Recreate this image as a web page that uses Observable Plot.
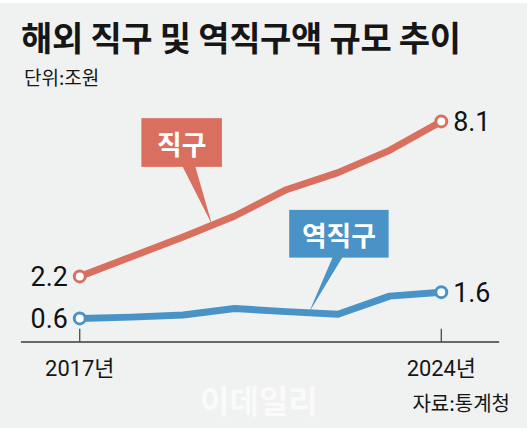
<!DOCTYPE html>
<html>
<head>
<meta charset="utf-8">
<script src="https://cdn.jsdelivr.net/npm/d3@7"></script>
<script src="https://cdn.jsdelivr.net/npm/@observablehq/plot@0.6"></script>
<style>
  html, body { margin: 0; padding: 0; background: #ffffff; }
  #card {
    position: absolute; left: 0; top: 3px; width: 527px; height: 425px;
    background: #f0f1f1; overflow: hidden;
    font-family: "Noto Sans CJK KR", "Noto Sans", sans-serif; color: #161616;
  }
  #title { position: absolute; left: 21px; top: 17px; font-size: 34px; line-height: 34px; font-weight: 700; letter-spacing: -0.3px; white-space: nowrap; }
  #subtitle { position: absolute; left: 24px; top: 64px; font-size: 19px; line-height: 19px; white-space: nowrap; }
  #chart { position: absolute; left: 0; top: 92px; }
  #caption { position: absolute; right: 17px; top: 390px; font-size: 20px; line-height: 20px; white-space: nowrap; }
  #watermark { position: absolute; left: 200px; top: 380px; font-size: 32px; line-height: 32px; font-weight: 700; color: #ffffff; opacity: 0.7; white-space: nowrap; }
</style>
</head>
<body>
<div id="card">
  <div id="title">해외 직구 및 역직구액 규모 추이</div>
  <div id="subtitle">단위:조원</div>
  <div id="chart"></div>
  <div id="watermark">이데일리</div>
  <div id="caption">자료:통계청</div>
</div>
<script>
// ---- data ----
const years = [2017, 2018, 2019, 2020, 2021, 2022, 2023, 2024];
const jikgu = [2.2, 2.95, 3.7, 4.5, 5.5, 6.15, 7.0, 8.1];       // 직구 (조원)
const yeokjikgu = [0.6, 0.65, 0.73, 0.98, 0.86, 0.76, 1.45, 1.6]; // 역직구 (조원)
const seriesNames = ["직구", "역직구"];
const tickYears = [2017, 2024];
const tickLabels = ["2017년", "2024년"];
const labelAt = [2019.57, 2021.45]; // where each callout points on its line (year)

// ---- styles / layout ----
const colors = ["#d9705f", "#4993c6"];
const callout = {
  "직구":   {left: -71, top: -107, w: 81, h: 49, b1: -30, b2: -17},
  "역직구": {left: -20, top: -103, w: 100, h: 48, b1: 24, b2: 34}
};

const seriesValues = [jikgu, yeokjikgu];
const table = seriesNames.flatMap((s, i) => years.map((yr, j) => ({series: s, year: yr, value: seriesValues[i][j]})));
const ends = table.filter(d => d.year === years[0] || d.year === years[years.length - 1]);
const yMin = -0.3, yMax = 8.33, pad = 1.13;

function interp(vals, x) {
  const i = Math.min(years.length - 2, Math.max(0, Math.floor(x - years[0])));
  const t = (x - years[i]) / (years[i + 1] - years[i]);
  return vals[i] + t * (vals[i + 1] - vals[i]);
}

function callouts(index, scales) {
  const g = d3.create("svg:g");
  seriesNames.forEach((s, i) => {
    const L = callout[s];
    const tx = scales.x(labelAt[i]);
    const ty = scales.y(interp(seriesValues[i], labelAt[i]));
    const bx = tx + L.left, by = ty + L.top;
    g.append("path")
      .attr("d", `M${tx + L.b1},${by + L.h - 1}L${tx + L.b2},${by + L.h - 1}L${tx},${ty}Z`)
      .attr("fill", colors[i]);
    g.append("rect").attr("x", bx).attr("y", by).attr("width", L.w).attr("height", L.h).attr("fill", colors[i]);
    g.append("text").attr("x", bx + L.w / 2).attr("y", by + L.h / 2 + 1)
      .attr("text-anchor", "middle").attr("dominant-baseline", "central")
      .attr("fill", "#ffffff").attr("font-size", 27).attr("font-weight", 700)
      .attr("font-family", '"Noto Sans CJK KR", sans-serif')
      .text(s);
  });
  return g.node();
}

const chart = Plot.plot({
  width: 530,
  height: 300,
  marginTop: 20,
  marginBottom: 52,
  marginLeft: 21,
  marginRight: 28,
  style: {background: "transparent", fontFamily: 'Roboto, "Noto Sans CJK KR", sans-serif', color: "#161616"},
  x: {domain: [years[0] - pad, years[years.length - 1] + pad], axis: null},
  y: {domain: [yMin, yMax], axis: null},
  color: {domain: seriesNames, range: colors},
  marks: [
    Plot.ruleY([yMin], {stroke: "#3a3a3a", strokeWidth: 1.5}),
    Plot.tickX(tickYears, {x: d => d, stroke: "#3a3a3a", strokeWidth: 1.2, insetTop: 215}),
    Plot.axisX({ticks: tickYears, tickSize: 0, tickPadding: 18, label: null, tickFormat: d => tickLabels[tickYears.indexOf(d)], fontSize: 22, fill: "#161616"}),
    Plot.line(table, {x: "year", y: "value", z: "series", stroke: "series", strokeWidth: 7, strokeLinejoin: "round"}),
    callouts,
    Plot.dot(ends, {x: "year", y: "value", stroke: "series", fill: "#ffffff", r: 5.5, strokeWidth: 3}),
    Plot.text(ends.filter(d => d.year === years[0]), {x: "year", y: "value", text: d => d.value.toFixed(1), textAnchor: "end", dx: -12, dy: 1, fontSize: 27, fill: "#111"}),
    Plot.text(ends.filter(d => d.year !== years[0]), {x: "year", y: "value", text: d => d.value.toFixed(1), textAnchor: "start", dx: 12, dy: 1, fontSize: 27, fill: "#111"})
  ]
});
document.getElementById("chart").appendChild(chart);
</script>
</body>
</html>
